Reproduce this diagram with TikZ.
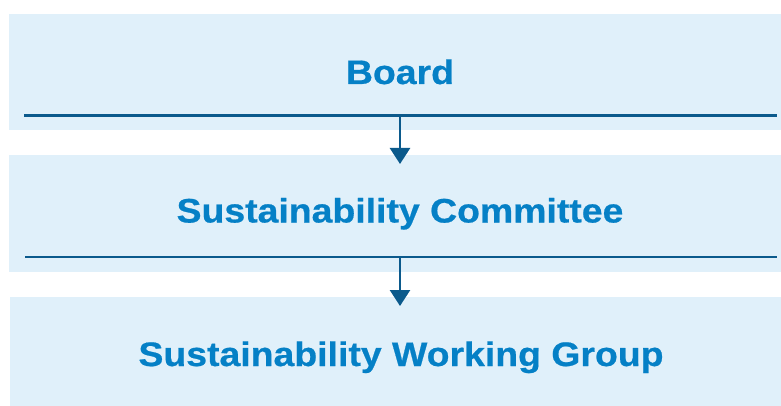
\documentclass[tikz,border=0pt]{standalone}
\usepackage{fontspec}
\setmainfont{Liberation Sans}[FakeStretch=1.1, BoldFeatures={FakeStretch=1.1, FakeBold=0.6}]
\usepackage{tikz}
\usetikzlibrary{arrows.meta,positioning}
\definecolor{bandfill}{HTML}{E0F0FA}
\definecolor{titleblue}{HTML}{0580C6}
\definecolor{linkblue}{HTML}{0B5A8C}
\tikzstyle{band} = [rectangle, fill=bandfill, inner sep=0pt,
    minimum width=772pt]
\tikzstyle{title} = [text=titleblue, inner sep=0pt, anchor=base,
    font=\fontsize{34}{40}\selectfont\bfseries]
\tikzstyle{rule} = [draw=linkblue, line width=2.6pt]
\tikzstyle{link} = [draw=linkblue, line width=2.6pt,
    -{Triangle[width=20pt,length=16pt]}]

\begin{document}
\begin{tikzpicture}[x=1pt,y=-1pt]
  \useasboundingbox (0,0) rectangle (781,406);
  % Place bands
  \node [band, minimum height=116pt] (boardbox) at (395,72) {};
  \node [band, minimum height=117pt] (committeebox) at (395,213.5) {};
  \node [band, minimum height=109pt, minimum width=771pt] (groupbox) at (395.5,351.5) {};
  % Place titles
  \node [title] (board) at (400,84) {Board};
  \node [title] (committee) at (400,222.5) {Sustainability Committee};
  \node [title] (group) at (401,366) {Sustainability Working Group};
  % Draw rules
  \coordinate (rulea west) at (24,115.5);
  \coordinate (rulea east) at (777,115.5);
  \coordinate (ruleb west) at (25,257);
  \coordinate (ruleb east) at (777,257);
  \draw[rule] (rulea west) -- (rulea east);
  \draw[rule] (ruleb west) -- (ruleb east);
  % Draw edges
  \coordinate (tipa) at (400,164);
  \coordinate (tipb) at (400,306);
  \draw[link] (board |- rulea west) -- (tipa);
  \draw[link] (committee |- ruleb west) -- (tipb);
\end{tikzpicture}
\end{document}
